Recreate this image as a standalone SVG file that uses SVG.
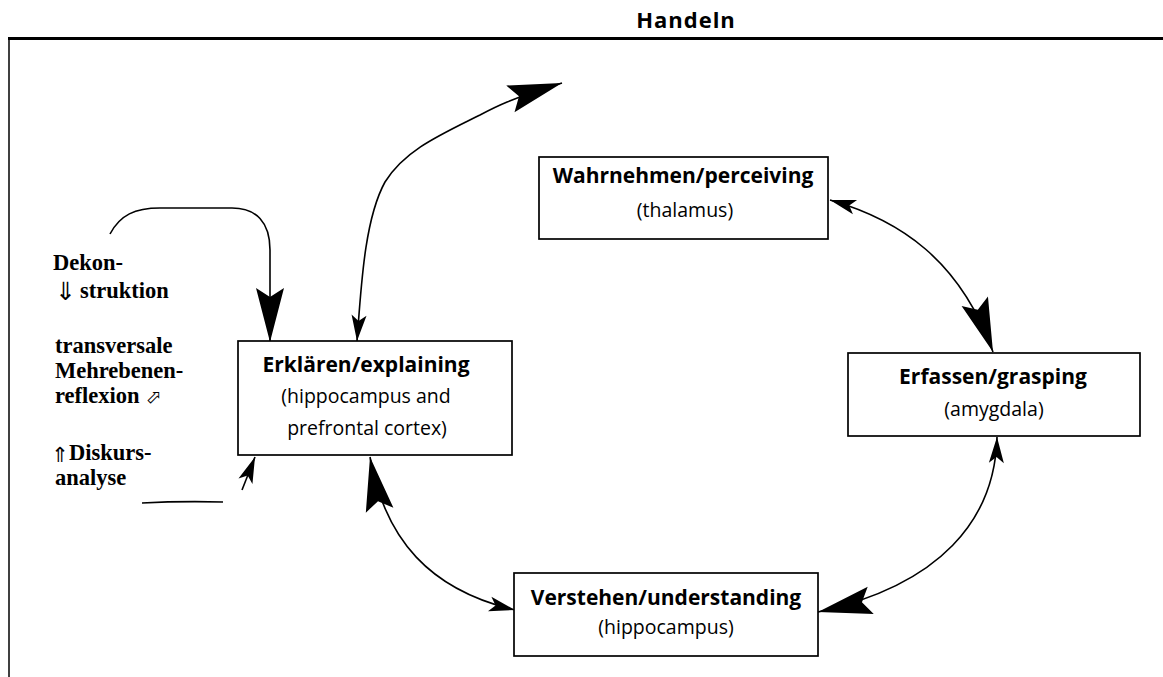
<svg xmlns="http://www.w3.org/2000/svg" width="1163" height="677" viewBox="0 0 1163 677">
<style>
.box{fill:#fff;stroke:#000;stroke-width:1.7}
.t{font-family:"Open Sans","Noto Sans",sans-serif;font-weight:bold;font-size:21px;fill:#000;text-anchor:middle}
.s{font-family:"Open Sans","Noto Sans",sans-serif;font-size:19.5px;fill:#000;text-anchor:middle}
.l{font-family:"Liberation Serif",serif;font-weight:bold;font-size:22.5px;fill:#000}
.a{font-family:"DejaVu Sans",sans-serif;fill:#000}
.c{fill:none;stroke:#000;stroke-width:1.6}
</style>
<defs>
<marker id="big" markerUnits="userSpaceOnUse" orient="auto-start-reverse" overflow="visible" markerWidth="1" markerHeight="1" refX="0" refY="0">
<path d="M0,0 L-54,-14 L-45,0 L-54,14 Z" fill="#000"/>
</marker>
<marker id="small" markerUnits="userSpaceOnUse" orient="auto-start-reverse" overflow="visible" markerWidth="1" markerHeight="1" refX="0" refY="0">
<path d="M0,0 L-26,-7.5 L-20,0 L-26,7.5 Z" fill="#000"/>
</marker>
</defs>
<rect width="1163" height="677" fill="#fff"/>
<g id="frame">
<text x="686" y="28" font-family="Open Sans, sans-serif" font-weight="bold" font-size="22" letter-spacing="1" text-anchor="middle">Handeln</text>
<line x1="8" y1="38.5" x2="1163" y2="38.5" stroke="#000" stroke-width="3"/>
<line x1="9" y1="38" x2="9" y2="677" stroke="#000" stroke-width="1.5"/>
</g>
<g id="connectors">
<path class="c" d="M110,234 C120,215 135,208 160,208 L232,208 C256,208 270,222 270,250 L270,342" marker-end="url(#big)"/>
<path class="c" d="M357,341 C361,290 364,220 385,182 C405,150 440,135 480,115 C495,107 510,99 562,83" marker-start="url(#small)" marker-end="url(#big)"/>
<path class="c" d="M830,200 C900,220 960,260 993,352" marker-start="url(#small)" marker-end="url(#big)"/>
<path class="c" d="M997,437 C995,520 940,585 818,612" marker-start="url(#small)" marker-end="url(#big)"/>
<path class="c" d="M370,457 C385,540 430,590 515,610" marker-start="url(#big)" marker-end="url(#small)"/>
<path class="c" d="M242,490 L255,457" marker-end="url(#small)"/>
<path class="c" d="M142,503 Q180,501 223,502"/>
</g>
<g id="reflexion-labels">
<text class="l" x="53" y="270">Dekon-</text>
<text class="a" x="55" y="300" font-size="25">⇓</text>
<text class="l" x="80" y="298">struktion</text>
<text class="l" x="55" y="353">transversale</text>
<text class="l" x="55" y="378">Mehrebenen-</text>
<text class="l" x="55" y="403">reflexion</text>
<text class="a" x="146" y="403" font-size="19">⬀</text>
<text class="a" x="51" y="462" font-size="21">⇑</text>
<text class="l" x="69" y="460">Diskurs-</text>
<text class="l" x="55" y="485">analyse</text>
</g>
<g id="wahrnehmen">
<rect class="box" x="539" y="157" width="289" height="82"/>
<text class="t" x="683" y="183">Wahrnehmen/perceiving</text>
<text class="s" x="685" y="217">(thalamus)</text>
</g>
<g id="erfassen">
<rect class="box" x="848" y="353" width="292" height="83"/>
<text class="t" x="993" y="384">Erfassen/grasping</text>
<text class="s" x="994" y="416">(amygdala)</text>
</g>
<g id="verstehen">
<rect class="box" x="514" y="573" width="304" height="83"/>
<text class="t" x="666" y="605">Verstehen/understanding</text>
<text class="s" x="666" y="634">(hippocampus)</text>
</g>
<g id="erklaeren">
<rect class="box" x="238" y="341" width="274" height="114"/>
<text class="t" x="366" y="372">Erklären/explaining</text>
<text class="s" x="366" y="403">(hippocampus and</text>
<text class="s" x="367" y="435">prefrontal cortex)</text>
</g>
</svg>
